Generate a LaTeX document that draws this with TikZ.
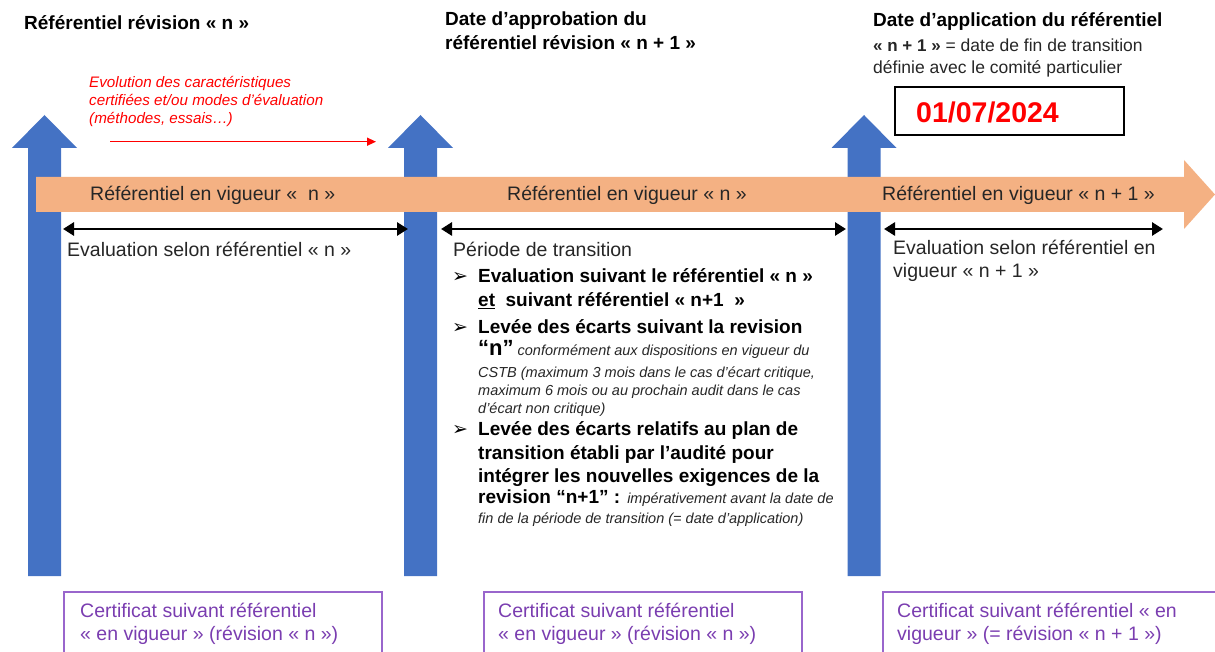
\documentclass[tikz,border=0pt]{standalone}
\usepackage{fontspec}
\setmainfont{Liberation Sans}
\newfontfamily\symb{DejaVu Sans}
\usetikzlibrary{arrows.meta}
\definecolor{bleu}{HTML}{4472C4}
\definecolor{saumon}{HTML}{F4B183}
\definecolor{encre}{HTML}{262626}
\definecolor{violet}{HTML}{7A3DB0}
\definecolor{violetcadre}{HTML}{9966CC}
\newcommand{\jalon}[1]{\fill[bleu] (#1-16.5,576) -- (#1-16.5,148) -- (#1-32.5,148) -- (#1,115)
    -- (#1+32.5,148) -- (#1+16.5,148) -- (#1+16.5,576) -- cycle;}
\newcommand{\puce}{{\symb\fontsize{19}{19}\selectfont ➢}}

\begin{document}
\begin{tikzpicture}[x=1pt,y=-1pt]
    \tikzstyle{titre}=[anchor=base west, inner sep=0pt, text=black, font=\bfseries\fontsize{19}{19}\selectfont]
    \tikzstyle{petit}=[anchor=base west, inner sep=0pt, text=encre, font=\fontsize{17.5}{17.5}\selectfont]
    \tikzstyle{texte}=[anchor=base west, inner sep=0pt, text=encre, font=\fontsize{19.5}{19.5}\selectfont]
    \tikzstyle{gras}=[anchor=base west, inner sep=0pt, text=black, font=\bfseries\fontsize{19}{19}\selectfont]
    \tikzstyle{note}=[anchor=base west, inner sep=0pt, text=encre, font=\itshape\fontsize{14.5}{14.5}\selectfont]
    \tikzstyle{rouge}=[anchor=base west, inner sep=0pt, text=red, font=\itshape\fontsize{15.2}{15.2}\selectfont]
    \tikzstyle{certif}=[anchor=base west, inner sep=0pt, text=violet, font=\fontsize{19.5}{19.5}\selectfont]
    \tikzstyle{duree}=[line width=2.8pt, {Triangle[length=11pt,width=13pt]}-{Triangle[length=11pt,width=13pt]}]
    \useasboundingbox (0,0) rectangle (1215,652);
    \clip (0,0) rectangle (1215,652);

    % jalons
    \jalon{44.5}
    \jalon{420.5}
    \jalon{864}

    % fleche du temps
    \fill[saumon] (36,177) -- (1184,177) -- (1184,160) -- (1215,194.5) -- (1184,229)
        -- (1184,212) -- (36,212) -- cycle;
    \node[texte] (vig1) at (90,201) {Référentiel en vigueur «\ \ n »};
    \node[texte] (vig2) at (507,201) {Référentiel en vigueur « n »};
    \node[texte] (vig3) at (882,201) {Référentiel en vigueur « n + 1 »};

    % titres
    \node[titre] (rev) at (24,29.5) {Référentiel révision « n »};
    \node[titre] (appro1) at (445,26) {Date d’approbation du};
    \node[titre] (appro2) at (445,50) {référentiel révision « n + 1 »};
    \node[titre] (appli1) at (873,27) {Date d’application du référentiel};
    \node[petit] (appli2) at (873,52) {{\bfseries\fontsize{17}{17}\selectfont « n + 1 »} = date de fin de transition};
    \node[petit] (appli3) at (873,74) {définie avec le comité particulier};
    \draw[line width=1.2pt] (895,87) rectangle (1124,135);
    \node[anchor=base west, inner sep=0pt, text=red, font=\bfseries\fontsize{28.5}{28.5}\selectfont] (date) at (916,123) {01/07/2024};

    % evolution
    \node[rouge] (evo1) at (89,88) {Evolution des caractéristiques};
    \node[rouge] (evo2) at (89,106) {certifiées et/ou modes d’évaluation};
    \node[rouge] (evo3) at (89,124) {(méthodes, essais…)};
    \coordinate (evog) at (110,141.7);
    \coordinate (evod) at (376,141.7);
    \draw[red, line width=1.4pt, -{Triangle[length=9pt,width=8pt]}] (evog) -- (evod);

    % periodes
    \coordinate (p1g) at (63,229);
    \coordinate (p1d) at (408,229);
    \coordinate (p2g) at (441,229);
    \coordinate (p2d) at (846,229);
    \coordinate (p3g) at (884,229);
    \coordinate (p3d) at (1163,229);
    \draw[duree] (p1g) -- (p1d);
    \draw[duree] (p2g) -- (p2d);
    \draw[duree] (p3g) -- (p3d);

    \node[texte] (eval1) at (67,257) {Evaluation selon référentiel « n »};
    \node[texte] (eval3a) at (893,255) {Evaluation selon référentiel en};
    \node[texte] (eval3b) at (893,277) {vigueur « n + 1 »};

    % transition
    \node[texte] (trans) at (453,257) {Période de transition};
    \node[anchor=base west, inner sep=0pt] (puce1) at (452,283) {\puce};
    \node[gras] (l1) at (478,283) {Evaluation suivant le référentiel « n »};
    \node[gras] (l2) at (478,306.5) {\underline{et}\ \ suivant référentiel « n+1\ \ »};
    \node[anchor=base west, inner sep=0pt] (puce2) at (452,333) {\puce};
    \node[gras] (l3) at (478,333) {Levée des écarts suivant la revision};
    \node[note] (l4) at (478,355) {{\upshape\bfseries\fontsize{22}{22}\selectfont\color{black}“n”} conformément aux dispositions en vigueur du};
    \node[note] (l5) at (478,377) {CSTB (maximum 3 mois dans le cas d’écart critique,};
    \node[note] (l6) at (478,395) {maximum 6 mois ou au prochain audit dans le cas};
    \node[note] (l7) at (478,413) {d’écart non critique)};
    \node[anchor=base west, inner sep=0pt] (puce3) at (452,435) {\puce};
    \node[gras] (l8) at (478,435) {Levée des écarts relatifs au plan de};
    \node[gras] (l9) at (478,459) {transition établi par l’audité pour};
    \node[gras] (l10) at (478,482) {intégrer les nouvelles exigences de la};
    \node[gras] (l11) at (478,503) {revision “n+1” : {\mdseries\itshape\fontsize{14.5}{14.5}\selectfont\color{encre} impérativement avant la date de}};
    \node[note] (l12) at (478,523) {fin de la période de transition (= date d’application)};

    % certificats
    \draw[violetcadre, line width=1.2pt] (64,592) rectangle (382,670);
    \draw[violetcadre, line width=1.2pt] (484,592) rectangle (802,670);
    \draw[violetcadre, line width=1.2pt] (883,592) rectangle (1230,670);
    \node[certif] (cert1a) at (80,617) {Certificat suivant référentiel};
    \node[certif] (cert1b) at (80,640) {« en vigueur » (révision « n »)};
    \node[certif] (cert2a) at (498,617) {Certificat suivant référentiel};
    \node[certif] (cert2b) at (498,640) {« en vigueur » (révision « n »)};
    \node[certif] (cert3a) at (897,617) {Certificat suivant référentiel « en};
    \node[certif] (cert3b) at (897,640) {vigueur » (= révision « n + 1 »)};
\end{tikzpicture}
\end{document}
